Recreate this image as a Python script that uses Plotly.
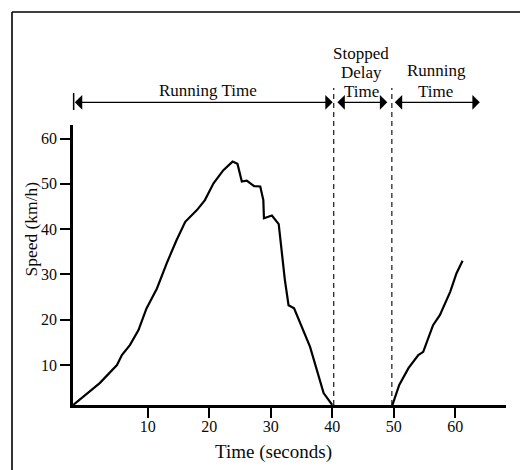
import plotly.graph_objects as go

# ---- data ----
time_run1 = [-2.1, 2.2, 5.0, 5.8, 7.1, 8.5, 9.8, 11.5, 13.1, 14.7, 16.1, 18.0, 19.3, 20.7,
             22.3, 23.8, 24.6, 25.3, 26.1, 27.3, 28.3, 28.8, 28.9, 30.2, 31.3, 31.8, 32.3,
             32.9, 33.8, 36.4, 38.6, 40.0]
speed_run1 = [1.2, 6.0, 10.0, 12.2, 14.4, 17.7, 22.5, 26.9, 32.5, 37.6, 41.6, 44.2, 46.4, 50.1,
              53.0, 54.9, 54.4, 50.5, 50.7, 49.5, 49.4, 46.4, 42.4, 43.0, 41.1, 34.7, 28.8,
              23.2, 22.5, 14.0, 3.8, 1.2]
time_run2 = [49.8, 50.9, 52.4, 54.0, 54.8, 55.6, 56.4, 57.5, 59.2, 60.2, 61.2]
speed_run2 = [1.2, 5.6, 9.3, 12.2, 12.9, 15.9, 18.8, 21.0, 26.2, 30.2, 33.0]

x_ticks = [10, 20, 30, 40, 50, 60]
y_ticks = [10, 20, 30, 40, 50, 60]

x_range = [-2.15, 68.26]
y_range = [1.17, 62.98]

stop_start = 40.25
stop_end = 49.7

FONT = "Liberation Serif"
INK = "#0a0a0a"

# page has an 8px body margin, so the figure is 520x462 drawn at (8, 8)
PLOT_H = 280.0
def py2paper(py_screen):
    # screen pixel y -> paper y (plot bottom at screen y=405)
    return (405 - py_screen) / PLOT_H

PLOT_W = 433.0
def px2paper(px_screen):
    return (px_screen - 73) / PLOT_W

fig = go.Figure()
fig.add_trace(go.Scatter(x=time_run1, y=speed_run1, mode="lines",
                         line=dict(color="black", width=2.2), showlegend=False,
                         hoverinfo="skip"))
fig.add_trace(go.Scatter(x=time_run2, y=speed_run2, mode="lines",
                         line=dict(color="black", width=2.2), showlegend=False,
                         hoverinfo="skip"))

# dashed guides for stopped delay
for xv in (stop_start, stop_end):
    fig.add_shape(type="line", xref="x", yref="paper", x0=xv, x1=xv, y0=0, y1=py2paper(88),
                  line=dict(color="black", width=1.1, dash="5px,4px"), layer="above")

# left bar at start of running time arrow
fig.add_shape(type="line", xref="paper", yref="paper", x0=0.0015, x1=0.0015,
              y0=py2paper(110), y1=py2paper(93), line=dict(color="black", width=1.5))

# outer frame (top and left only)
fig.add_shape(type="line", xref="paper", yref="paper", x0=px2paper(12), x1=px2paper(530),
              y0=py2paper(12), y1=py2paper(12), line=dict(color="black", width=1.6))
fig.add_shape(type="line", xref="paper", yref="paper", x0=px2paper(12), x1=px2paper(12),
              y0=py2paper(12), y1=py2paper(472), line=dict(color="black", width=1.6))

# double-headed arrows
arrow_py = 102.3
arrows = [(x_range[0] + 0.05, 40.08), (40.6, 48.96), (49.93, 64.0)]
for a0, a1 in arrows:
    fig.add_annotation(x=a1, y=py2paper(arrow_py), ax=a0, ay=0, xref="x", yref="paper",
                       axref="x", ayref="pixel", text="", showarrow=True,
                       arrowhead=1, startarrowhead=1, arrowside="end+start",
                       arrowsize=1.9, startarrowsize=1.9, arrowwidth=1.3, arrowcolor="black",
                       standoff=0, startstandoff=0)

def label(text, t, py, size=17):
    fig.add_annotation(x=t, y=py2paper(py), xref="x", yref="paper", text=text,
                       showarrow=False, xanchor="center", yanchor="middle",
                       font=dict(family=FONT, size=size, color=INK))

label("Running Time", 19.8, 90)
label("Stopped", 44.65, 53)
label("Delay", 44.7, 72)
label("Time", 44.7, 91)
label("Running", 57.0, 70)
label("Time", 56.85, 91)

# axis titles as annotations (positions match reference)
fig.add_annotation(x=30.4, y=py2paper(452), xref="x", yref="paper", text="Time (seconds)",
                   showarrow=False, xanchor="center", yanchor="middle",
                   font=dict(family=FONT, size=19, color=INK))
fig.add_annotation(x=px2paper(31.5), y=40.0, xref="paper", yref="y", text="Speed (km/h)",
                   showarrow=False, xanchor="center", yanchor="middle", textangle=-90,
                   font=dict(family=FONT, size=17.5, color=INK))

fig.update_xaxes(range=x_range, tickmode="array", tickvals=x_ticks,
                 ticktext=[str(v) for v in x_ticks], ticks="outside", ticklen=10,
                 tickwidth=2, tickcolor="black", showline=True, linecolor="black",
                 linewidth=2.6, showgrid=False, zeroline=False, ticklabelstandoff=-5,
                 tickfont=dict(family=FONT, size=16, color=INK))
fig.update_yaxes(range=y_range, tickmode="array", tickvals=y_ticks,
                 ticktext=[str(v) for v in y_ticks], ticks="outside", ticklen=10,
                 tickwidth=2, tickcolor="black", showline=True, linecolor="black",
                 linewidth=2.6, showgrid=False, zeroline=False,
                 tickfont=dict(family=FONT, size=16, color=INK))

fig.update_layout(width=520, height=462, margin=dict(l=65, r=22, t=117, b=65, pad=0),
                  paper_bgcolor="white", plot_bgcolor="white", showlegend=False)

fig.write_html("out.html")
